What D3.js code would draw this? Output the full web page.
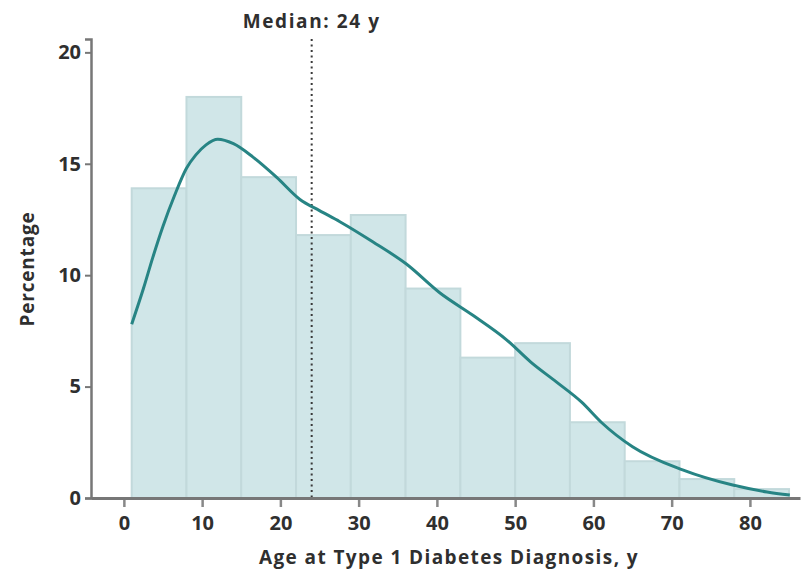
<!DOCTYPE html>
<html>
<head>
<meta charset="utf-8">
<script src="https://cdn.jsdelivr.net/npm/d3@7"></script>
<style>
  html, body { margin: 0; padding: 0; background: #fff; }
  text { font-family: "Open Sans", "Noto Sans", sans-serif; font-weight: 700; fill: #2f2f2f; }
</style>
</head>
<body>
<svg id="chart" width="803" height="570"></svg>
<script>
// Histogram bins (age, years) and percentages
const binEdges = [1, 8, 15, 22, 29, 36, 43, 50, 57, 64, 71, 78, 85];
const binPercents = [13.9, 18.0, 14.4, 11.8, 12.7, 9.4, 6.3, 6.95, 3.4, 1.65, 0.85, 0.4];

// Smoothed density curve (age, percent)
const curveAges = [1, 2.5, 3.7, 5, 6.5, 8, 9.2, 10.5, 12, 14, 16.5, 19.5, 22.5, 25, 27.6, 31.8, 36.1, 40.4, 44.6, 48.9, 52, 55.3, 58.5, 61, 65, 71.4, 77.8, 82.2, 85.1];
const curvePercents = [7.8, 9.4, 10.8, 12.2, 13.6, 14.8, 15.4, 15.85, 16.1, 15.9, 15.3, 14.4, 13.4, 12.9, 12.4, 11.5, 10.5, 9.2, 8.2, 7.1, 6.1, 5.2, 4.3, 3.4, 2.3, 1.26, 0.58, 0.27, 0.13];

const medianAge = 24;
const xTicks = [0, 10, 20, 30, 40, 50, 60, 70, 80];
const yTicks = [0, 5, 10, 15, 20];
const xTitle = "Age at Type 1 Diabetes Diagnosis, y";
const yTitle = "Percentage";
const medianLabel = "Median: 24 y";

const svg = d3.select("#chart");
const x = d3.scaleLinear().domain([-4.2, 86.4]).range([91, 800]);
const y = d3.scaleLinear().domain([0, 20.6]).range([498, 39]);

const bins = binPercents.map((p, i) => ({ x0: binEdges[i], x1: binEdges[i + 1], p }));

// bars
svg.append("g").selectAll("rect").data(bins).join("rect")
  .attr("x", d => x(d.x0))
  .attr("y", d => y(d.p))
  .attr("width", d => x(d.x1) - x(d.x0))
  .attr("height", d => y(0) - y(d.p))
  .attr("fill", "#d0e6e8")
  .attr("stroke", "#c2d9db")
  .attr("stroke-width", 2);

// median line
svg.append("line")
  .attr("x1", x(medianAge)).attr("x2", x(medianAge))
  .attr("y1", y(20.6)).attr("y2", y(0))
  .attr("stroke", "#3a3a3a")
  .attr("stroke-width", 2)
  .attr("stroke-dasharray", "2,3.5");

// density curve
const pts = curveAges.map((a, i) => [a, curvePercents[i]]);
svg.append("path")
  .datum(pts)
  .attr("fill", "none")
  .attr("stroke", "#278484")
  .attr("stroke-width", 3)
  .attr("d", d3.line().x(d => x(d[0])).y(d => y(d[1])).curve(d3.curveMonotoneX));

// axes
const xAxis = svg.append("g").attr("transform", `translate(0,${y(0)})`)
  .call(d3.axisBottom(x).tickValues(xTicks).tickSize(0).tickPadding(0).tickFormat(d3.format("d")));
xAxis.select(".domain").attr("stroke", "#777").attr("stroke-width", 3);
xAxis.selectAll(".tick").append("line")
  .attr("y1", 2).attr("y2", 9).attr("stroke", "#888").attr("stroke-width", 2.5);
xAxis.selectAll(".tick text")
  .attr("y", 25).attr("dy", "0.35em")
  .style("font-size", "20px").style("font-family", "'Open Sans', sans-serif").style("font-weight", 700).attr("fill", "#333");

const yAxis = svg.append("g").attr("transform", `translate(${x(-4.2)},0)`)
  .call(d3.axisLeft(y).tickValues(yTicks).tickSize(6).tickPadding(4).tickFormat(d3.format("d")));
yAxis.select(".domain").attr("stroke", "#777").attr("stroke-width", 2.5);
yAxis.selectAll(".tick line").attr("stroke", "#777").attr("stroke-width", 2);
yAxis.selectAll(".tick text")
  .style("font-size", "20px").style("font-family", "'Open Sans', sans-serif").style("font-weight", 700).attr("fill", "#333");

// titles
svg.append("text")
  .attr("x", 449).attr("y", 564)
  .attr("text-anchor", "middle")
  .style("font-size", "19px")
  .style("letter-spacing", "1.4px")
  .text(xTitle);

svg.append("text")
  .attr("transform", "translate(34,269) rotate(-90)")
  .attr("text-anchor", "middle")
  .style("font-size", "19px")
  .style("letter-spacing", "0.8px")
  .text(yTitle);

svg.append("text")
  .attr("x", x(medianAge)).attr("y", 28)
  .attr("text-anchor", "middle")
  .style("font-size", "19px")
  .style("letter-spacing", "1.6px")
  .text(medianLabel);
</script>
</body>
</html>
